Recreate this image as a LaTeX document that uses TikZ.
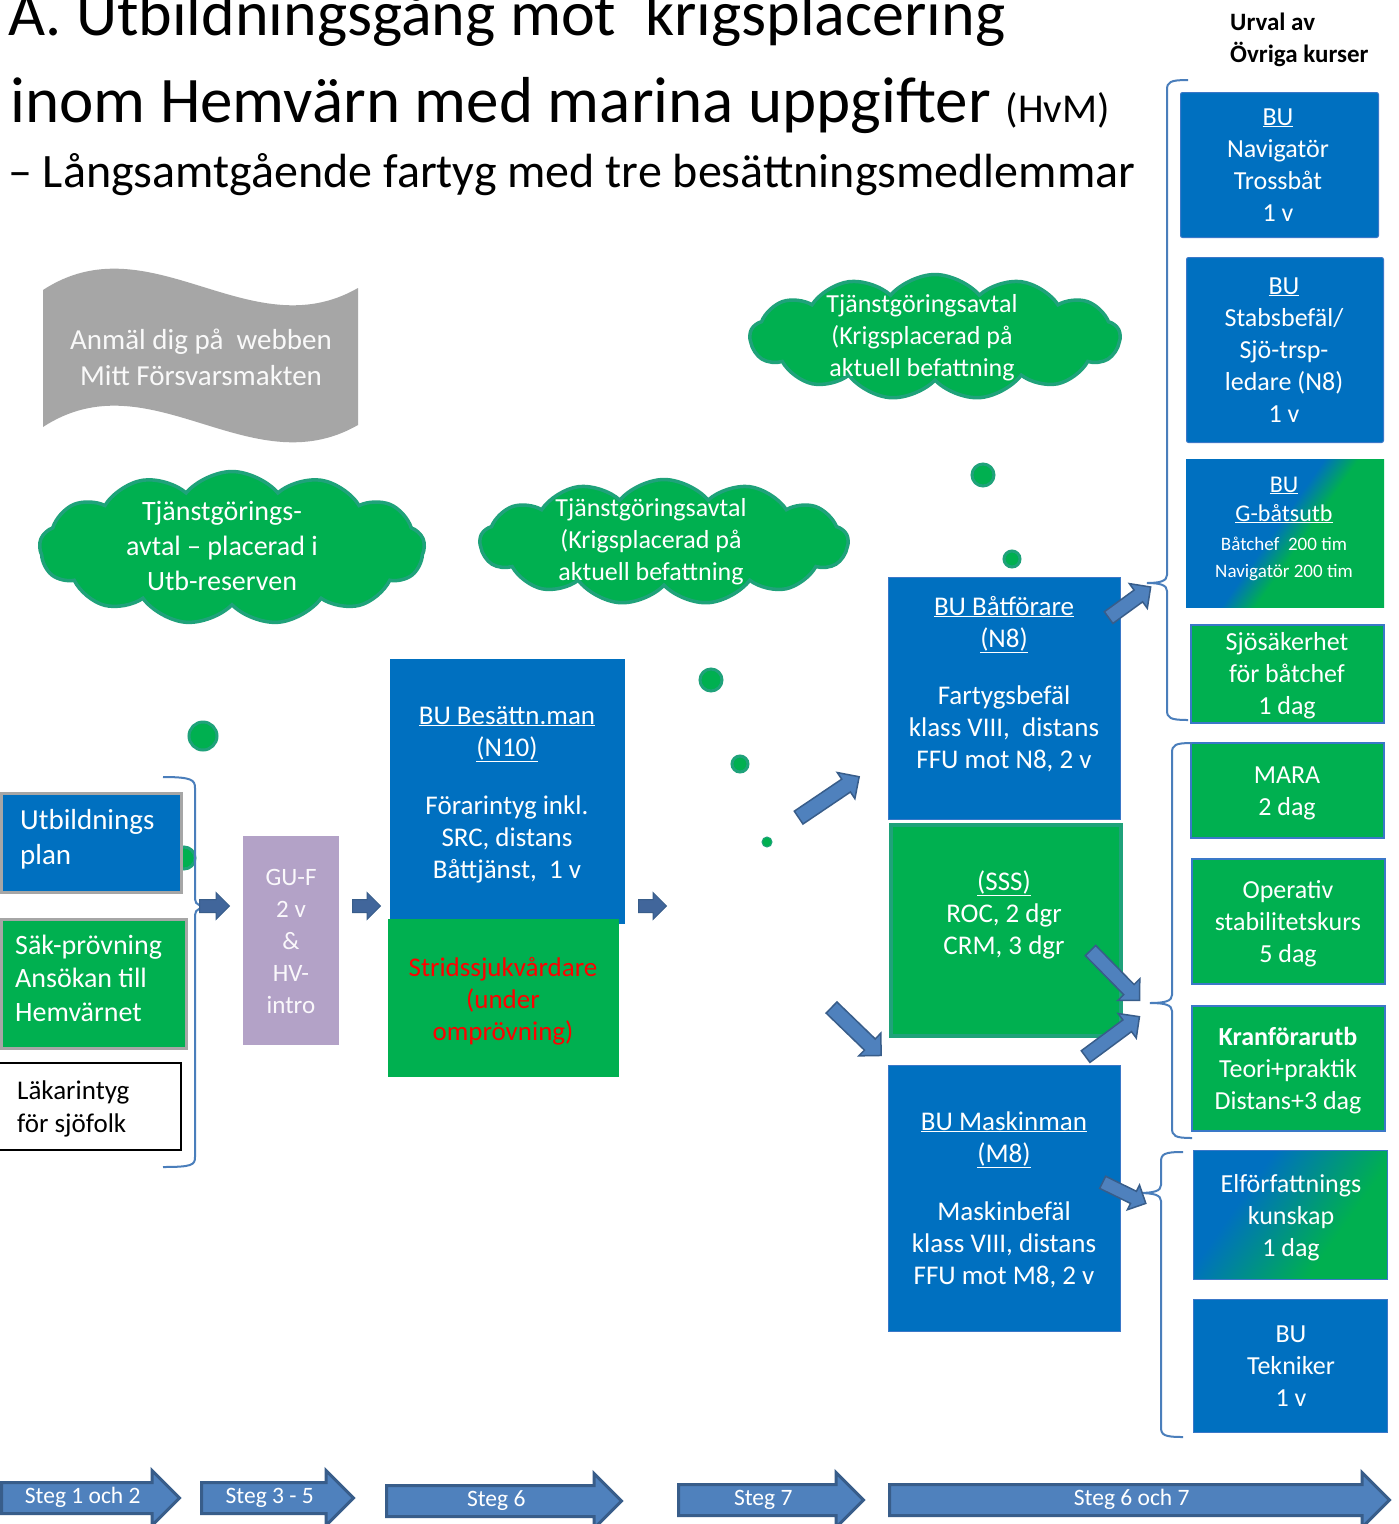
\documentclass[tikz,border=0pt]{standalone}
\usepackage{fontspec}
\setmainfont{Carlito}
\usetikzlibrary{shapes.symbols,shapes.arrows}
\definecolor{bblue}{HTML}{0070C0}
\definecolor{bgreen}{HTML}{00B050}
\definecolor{cloudedge}{HTML}{1FA27A}
\definecolor{arrfill}{HTML}{4F81BD}
\definecolor{arredge}{HTML}{385D8A}
\definecolor{smallarr}{HTML}{41669B}
\definecolor{bracec}{HTML}{4A7EBB}
\definecolor{lav}{HTML}{B3A2C7}
\definecolor{wavegray}{HTML}{A6A6A6}
\definecolor{boxedge}{HTML}{3A78C8}
\newcommand{\fs}[2]{\fontsize{#1}{#2}\selectfont}
\pgfdeclarehorizontalshading{bgA}{100bp}{color(0bp)=(bblue); color(47bp)=(bblue); color(55bp)=(bgreen); color(100bp)=(bgreen)}
\pgfdeclarehorizontalshading{bgB}{100bp}{color(0bp)=(bblue); color(35bp)=(bblue); color(65bp)=(bgreen); color(100bp)=(bgreen)}
\begin{document}
\begin{tikzpicture}[x=1pt,y=-1pt,
  txt/.style={inner sep=0, align=center, text=white},
  ltxt/.style={inner sep=0, align=left, text=white},
  bx/.style={rectangle, inner sep=0, anchor=north west},
  bluebx/.style={bx, fill=bblue, draw=boxedge, line width=1},
  greenbx/.style={bx, fill=bgreen, draw=boxedge, line width=2},
  cloudbx/.style={cloud, cloud puffs=13, cloud puff arc=100, fill=bgreen, draw=cloudedge, line width=3.5, inner sep=0},
  dot/.style={circle, fill=bgreen, draw=cloudedge, line width=3, inner sep=0},
  blk/.style={single arrow, fill=arrfill, draw=arredge, line width=1.5, inner sep=0, anchor=tail},
  sblk/.style={single arrow, fill=smallarr, draw=arredge, line width=1, inner sep=0, anchor=tail, text height=12, text depth=0, single arrow head extend=7},
  stegarr/.style={single arrow, single arrow head extend=12, fill=arrfill, draw=arredge, line width=3, text=white, font=\fs{23.5}{26}, inner xsep=4, inner ysep=5, text height=14, text depth=4, anchor=tail},
  brc/.style={draw=bracec, line width=2}
]
\useasboundingbox (0,0) rectangle (1399,1524);
\clip (0,0) rectangle (1399,1524);
\fill[white] (0,0) rectangle (1399,1524);

% titles
\node[inner sep=0, anchor=base west, font=\fs{64}{70}] (t1) at (8,35) {A. Utbildningsgång mot~ krigsplacering};
\node[inner sep=0, anchor=base west, font=\fs{65}{70}] (t2) at (10,122) {inom Hemvärn med marina uppgifter {\fs{41}{48}(HvM)}};
\node[inner sep=0, anchor=base west, font=\fs{48}{56}] (t3) at (8,187) {– Långsamtgående fartyg med tre besättningsmedlemmar};
\node[inner sep=0, anchor=base west, align=left, font=\bfseries\fs{25}{32}] (urval) at (1230,62) {\hspace*{0pt}Urval av\\Övriga kurser};

% wave banner
\fill[wavegray] (43,290) .. controls (150,220) and (250,350) .. (358,288) -- (358,425) .. controls (250,487) and (150,357) .. (43,427) -- cycle;
\node[txt, anchor=base, font=\fs{29}{36}, text=white!95!gray] (wave) at (201,385) {Anmäl dig på~ webben\\Mitt Försvarsmakten};

% clouds
\node[cloudbx, minimum width=385, minimum height=153] (c1) at (232,548) {};
\node[txt, anchor=base, font=\fs{28}{35}] (c1t) at (222,590) {Tjänstgörings-\\avtal – placerad i\\Utb-reserven};
\node[cloudbx, minimum width=368, minimum height=125] (c2) at (664,542) {};
\node[txt, anchor=base, font=\fs{26}{32}] (c2t) at (651,580) {Tjänstgöringsavtal\\(Krigsplacerad på\\aktuell befattning};
\node[cloudbx, minimum width=370, minimum height=125] (c3) at (935,337) {};
\node[txt, anchor=base, font=\fs{26}{32}] (c3t) at (922,376) {Tjänstgöringsavtal\\(Krigsplacerad på\\aktuell befattning};

% dots
\node[dot, minimum size=28] (d1) at (203,736) {};
\node[dot, minimum size=22] (d2) at (184,858) {};
\node[dot, minimum size=22] (d3) at (711,680) {};
\node[dot, minimum size=16] (d4) at (740,764) {};
\node[dot, minimum size=10, line width=1] (d5) at (767,842) {};
\node[dot, minimum size=22] (d6) at (983,475) {};
\node[dot, minimum size=16] (d7) at (1012,559) {};

% left column
\node[bx, fill=bblue, draw=gray!70, line width=3, minimum width=180, minimum height=99] (utb) at (0,792) {};
\node[ltxt, anchor=base west, font=\fs{29}{35}] (utbt) at (20,864) {Utbildnings\\plan};
\node[bx, fill=bgreen, draw=gray!70, line width=3, minimum width=185, minimum height=129] (sak) at (0,918) {};
\node[ltxt, anchor=base west, font=\fs{28}{33.5}] (sakt) at (15,1021) {Säk-prövning\\Ansökan till\\Hemvärnet};
\node[bx, fill=white, draw=black, line width=2, minimum width=183, minimum height=87] (lak) at (-3,1062) {};
\node[ltxt, anchor=base west, font=\fs{27}{33}, text=black] (lakt) at (17,1132) {Läkarintyg\\för sjöfolk};

\node[bx, fill=lav, minimum width=96, minimum height=209] (guf) at (243,836) {};
\node[txt, anchor=base, font=\fs{25}{32}, text=white!93!lav] (guft) at (291,1013) {GU-F\\2 v\\\&\\HV-\\intro};

\node[bx, fill=bblue, minimum width=235, minimum height=265] (bes) at (390,659) {};
\node[bx, fill=bgreen, minimum width=231, minimum height=158] (str) at (388,919) {};
\node[txt, anchor=base, font=\fs{27}{32}] (best) at (507,878) {\underline{BU Besättn.man}\\\underline{(N10)}\\[26pt]Förarintyg inkl.\\SRC, distans\\Båttjänst,~ 1 v};
\node[txt, anchor=base, font=\fs{27}{32}, text=red] (strt) at (503,1040) {Stridssjukvårdare\\(under\\omprövning)};

% central column
\node[bluebx, minimum width=232, minimum height=242] (batf) at (888,577) {};
\node[txt, anchor=base, font=\fs{27}{32}] (batft) at (1004,768) {\underline{BU Båtförare}\\\underline{(N8)}\\[25pt]Fartygsbefäl\\klass VIII,~ distans\\FFU mot N8, 2 v};
\node[bx, fill=bgreen, draw=cloudedge, line width=4, minimum width=230, minimum height=211] (sss) at (889,823) {};
\node[txt, anchor=base, font=\fs{27}{32}] (ssst) at (1004,954) {\underline{(SSS)}\\ROC, 2 dgr\\CRM, 3 dgr};
\node[bluebx, minimum width=232, minimum height=266] (mask) at (888,1065) {};
\node[txt, anchor=base, font=\fs{27}{32}] (maskt) at (1004,1284) {\underline{BU Maskinman}\\\underline{(M8)}\\[26pt]Maskinbefäl\\klass VIII, distans\\FFU mot M8, 2 v};

% right column
\node[bluebx, rounded corners=2, minimum width=198, minimum height=145] (r1) at (1180,92) {};
\node[txt, anchor=base, font=\fs{26}{32}] (r1t) at (1278,221) {\underline{BU}\\Navigatör\\Trossbåt\\1 v};
\node[bluebx, rounded corners=2, minimum width=197, minimum height=185] (r2) at (1186,257) {};
\node[txt, anchor=base, font=\fs{26}{32}] (r2t) at (1284,422) {\underline{BU}\\Stabsbefäl/\\Sjö-trsp-\\ledare (N8)\\1 v};
\node[bx, shading=bgA, shading angle=-35, minimum width=198, minimum height=148] (r3) at (1186,459) {};
\node[txt, anchor=base, font=\fs{24}{29}] (r3t) at (1284,521) {\underline{BU}\\\underline{G-båtsutb}};
\node[txt, anchor=base, font=\fs{19}{27}] (r3u) at (1284,577) {Båtchef~ 200 tim\\Navigatör 200 tim};
\node[greenbx, minimum width=193, minimum height=98] (r4) at (1190,624) {};
\node[txt, anchor=base, font=\fs{26}{32}] (r4t) at (1287,714) {Sjösäkerhet\\för båtchef\\1 dag};
\node[greenbx, minimum width=193, minimum height=95] (r5) at (1190,742) {};
\node[txt, anchor=base, font=\fs{26}{32}] (r5t) at (1287,815) {MARA\\2 dag};
\node[greenbx, minimum width=193, minimum height=125] (r6) at (1191,858) {};
\node[txt, anchor=base, font=\fs{26}{32}] (r6t) at (1288,962) {Operativ\\stabilitetskurs\\5 dag};
\node[greenbx, minimum width=193, minimum height=125] (r7) at (1191,1005) {};
\node[txt, anchor=base, font=\fs{26}{32}] (r7t) at (1288,1109) {\textbf{Kranförarutb}\\Teori+praktik\\Distans+3 dag};
\node[bx, shading=bgB, shading angle=-35, draw=boxedge, line width=1, minimum width=194, minimum height=129] (r8) at (1193,1150) {};
\node[txt, anchor=base, font=\fs{26}{32}] (r8t) at (1291,1256) {Elförfattnings\\kunskap\\1 dag};
\node[bluebx, minimum width=194, minimum height=133] (r9) at (1193,1299) {};
\node[txt, anchor=base, font=\fs{26}{32}] (r9t) at (1291,1406) {BU\\Tekniker\\1 v};

% braces
\draw[brc] (1188,80) .. controls (1170,80) and (1167,82) .. (1167,90) -- (1167,575) .. controls (1167,581) and (1160,583) .. (1147,583) .. controls (1160,583) and (1167,585) .. (1167,591) -- (1167,710) .. controls (1167,718) and (1170,720) .. (1188,720);
\draw[brc] (1192,743) .. controls (1175,743) and (1172,745) .. (1172,753) -- (1172,995) .. controls (1172,1001) and (1165,1003) .. (1150,1003) .. controls (1165,1003) and (1172,1005) .. (1172,1011) -- (1172,1128) .. controls (1172,1136) and (1175,1138) .. (1192,1138);
\draw[brc] (1183,1152) .. controls (1164,1152) and (1161,1154) .. (1161,1162) -- (1161,1185) .. controls (1161,1191) and (1154,1193) .. (1138,1193) .. controls (1154,1193) and (1161,1195) .. (1161,1201) -- (1161,1427) .. controls (1161,1435) and (1164,1437) .. (1183,1437);
\draw[brc] (163,777) .. controls (192,777) and (195,780) .. (195,788) -- (195,899) .. controls (195,905) and (201,907) .. (212,907) .. controls (201,907) and (195,909) .. (195,915) -- (195,1157) .. controls (195,1165) and (192,1167) .. (163,1167);

% small right arrows
\node[sblk, minimum height=30] (a1) at (199,906) {};
\node[sblk, minimum height=28] (a2) at (352,906) {};
\node[sblk, minimum height=28] (a3) at (638,906) {};

% diagonal arrows
\node[blk, rotate=34, minimum height=73, text height=14, text depth=0, single arrow head extend=8] (g1) at (798,818) {};
\node[blk, rotate=-44, minimum height=69, text height=14, text depth=0, single arrow head extend=8] (g2) at (831,1007) {};
\node[blk, rotate=36, minimum height=52, text height=13, text depth=0, single arrow head extend=8] (g3) at (1108,618) {};
\node[blk, rotate=-45.5, minimum height=70, text height=13, text depth=0, single arrow head extend=8] (g4) at (1090,950) {};
\node[blk, rotate=36.5, minimum height=67, text height=13, text depth=0, single arrow head extend=8] (g5) at (1085,1057) {};
\node[blk, rotate=-26, minimum height=48, text height=12, text depth=0, single arrow head extend=7] (g6) at (1102,1182) {};

% steg arrows
\node[stegarr, minimum height=178] (s1) at (0,1498) {Steg 1 och 2};
\node[stegarr, minimum height=152] (s2) at (200,1498) {Steg 3 - 5};
\node[stegarr, minimum height=235] (s3) at (385,1501) {Steg 6};
\node[stegarr, minimum height=185] (s4) at (677,1500) {Steg 7};
\node[stegarr, minimum height=500] (s5) at (888,1500) {Steg 6 och 7};
\end{tikzpicture}
\end{document}
